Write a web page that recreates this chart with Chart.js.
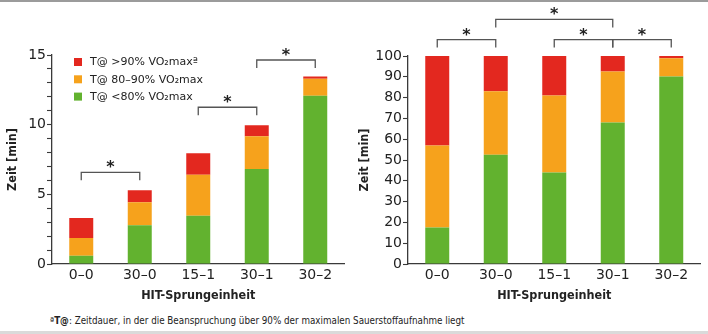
<!DOCTYPE html>
<html>
<head>
<meta charset="utf-8">
<script src="https://cdn.jsdelivr.net/npm/chart.js@4.4.1/dist/chart.umd.min.js"></script>
<style>
  html, body { margin: 0; padding: 0; background: #fff; }
  #page { position: relative; width: 708px; height: 334px; overflow: hidden; }
  #topRule { position: absolute; left: 0; top: 0; width: 708px; height: 2px; background: #9b9b9b; }
  #bottomRule { position: absolute; left: 0; top: 331px; width: 708px; height: 3px; background: #dadada; }
  .panel { position: absolute; top: 0; width: 354px; height: 310px; }
  #note { position: absolute; left: 50px; top: 315px; font: 9.75px "DejaVu Sans Condensed", "DejaVu Sans", sans-serif; color: #222; white-space: nowrap; }
  #note b { font-weight: bold; }
</style>
</head>
<body>
<div id="page">
  <div id="topRule"></div>
  <div class="panel" style="left:0"><canvas id="abs"></canvas></div>
  <div class="panel" style="left:354px"><canvas id="rel"></canvas></div>
  <div id="note">ª<b>T@</b>: Zeitdauer, in der die Beanspruchung über 90% der maximalen Sauerstoffaufnahme liegt</div>
  <div id="bottomRule"></div>
</div>
<script>
// Sprungeinheiten (HIT) auf der x-Achse
const categories = ["0–0", "30–0", "15–1", "30–1", "30–2"];

// Serienbeschriftungen
const labelLow  = "T@ <80% VO₂max";
const labelMid  = "T@ 80–90% VO₂max";
const labelHigh = "T@ >90% VO₂maxª";

// absolute Zeit [min], je Intensitätsbereich
const absLow  = [0.6, 2.78, 3.47, 6.82, 12.08];
const absMid  = [1.27, 1.65, 2.94, 2.35, 1.22];
const absHigh = [1.43, 0.86, 1.53, 0.79, 0.15];

// relativer Anteil [%], je Intensitätsbereich
const relLow  = [17.6, 52.5, 44.0, 68.0, 90.2];
const relMid  = [39.4, 30.5, 37.0, 24.5, 8.7];
const relHigh = [43.0, 17.0, 19.0, 7.5, 1.1];

// Signifikanzklammern: [von Index, bis Index, Höhe in y-Einheiten]
const absBrackets = [[0, 1, 6.58], [2, 3, 11.25], [3, 4, 14.64]];
const relBrackets = [[0, 1, 107.9], [1, 3, 117.6], [2, 3, 107.9], [3, 4, 107.9]];

const COLORS = { low: "#62b22f", mid: "#f6a21c", high: "#e3281f", ink: "#222", axis: "#3a3a3a", bracket: "#555" };
const TICK_FONT = { family: "'DejaVu Sans', sans-serif", size: 14 };
const TITLE_FONT = { family: "'DejaVu Sans Condensed', 'DejaVu Sans', sans-serif", size: 12.5, weight: "bold" };

// Klammern mit Sternchen über den Balken
const bracketPlugin = {
  id: "brackets",
  afterDraw(chart, args, opts) {
    const { ctx, scales: { x, y } } = chart;
    ctx.save();
    ctx.strokeStyle = COLORS.bracket;
    ctx.lineWidth = 1.3;
    ctx.fillStyle = COLORS.ink;
    ctx.font = "bold 16px 'DejaVu Sans', sans-serif";
    ctx.textAlign = "center";
    ctx.textBaseline = "alphabetic";
    (opts.items || []).forEach(([a, b, v]) => {
      const x1 = x.getPixelForValue(a), x2 = x.getPixelForValue(b);
      const yy = y.getPixelForValue(v);
      ctx.beginPath();
      ctx.moveTo(x1, yy + 8);
      ctx.lineTo(x1, yy);
      ctx.lineTo(x2, yy);
      ctx.lineTo(x2, yy + 8);
      ctx.stroke();
      ctx.fillText("*", (x1 + x2) / 2, yy);
    });
    ctx.restore();
  }
};

// Legende oben links im Diagrammbereich (oberste Serie zuerst)
const boxLegendPlugin = {
  id: "boxLegend",
  afterDraw(chart, args, opts) {
    if (!opts.show) return;
    const { ctx, chartArea } = chart;
    const sets = chart.data.datasets.slice().reverse();
    ctx.save();
    ctx.font = "11px 'DejaVu Sans', sans-serif";
    ctx.textBaseline = "middle";
    ctx.textAlign = "left";
    sets.forEach((ds, i) => {
      const cy = chartArea.top + 7 + i * 17.3;
      ctx.fillStyle = ds.backgroundColor;
      ctx.fillRect(chartArea.left + 22, cy - 4, 8, 8);
      ctx.fillStyle = COLORS.ink;
      ctx.fillText(ds.label, chartArea.left + 38, cy + 0.5);
    });
    ctx.restore();
  }
};

function stackedChart(canvasId, low, mid, high, cfg) {
  return new Chart(document.getElementById(canvasId), {
    type: "bar",
    data: {
      labels: categories,
      datasets: [
        { label: labelLow, data: low, backgroundColor: COLORS.low },
        { label: labelMid, data: mid, backgroundColor: COLORS.mid },
        { label: labelHigh, data: high, backgroundColor: COLORS.high }
      ]
    },
    options: {
      responsive: false,
      animation: false,
      layout: { padding: { top: cfg.top, right: cfg.right, left: 0, bottom: 0 } },
      datasets: { bar: { barPercentage: 0.41, categoryPercentage: 1, borderWidth: 0 } },
      plugins: {
        legend: { display: false },
        tooltip: { enabled: false },
        brackets: { items: cfg.brackets },
        boxLegend: { show: cfg.legend }
      },
      scales: {
        x: {
          stacked: true,
          afterFit: (s) => { s.height = 46; },
          grid: { display: false, drawTicks: false },
          border: { display: true, color: COLORS.axis, width: 1.3 },
          ticks: { color: COLORS.ink, font: TICK_FONT, padding: 3 },
          title: { display: true, text: "HIT-Sprungeinheit", color: COLORS.ink, font: TITLE_FONT, padding: { top: 0, bottom: 7 } }
        },
        y: {
          stacked: true,
          min: 0,
          max: cfg.max,
          afterFit: (s) => { s.width = cfg.axisWidth; },
          grid: { drawOnChartArea: false, drawTicks: true, tickLength: 5, color: COLORS.axis, tickWidth: 1.1 },
          border: { display: true, color: COLORS.axis, width: 1.3 },
          ticks: {
            stepSize: cfg.step,
            autoSkip: false,
            color: COLORS.ink,
            font: TICK_FONT,
            padding: 1,
            callback: (v) => (v % cfg.labelEvery === 0 ? v : "")
          },
          title: { display: true, text: "Zeit [min]", color: COLORS.ink, font: TITLE_FONT, padding: { top: cfg.titlePad, bottom: 0 } }
        }
      }
    },
    plugins: [bracketPlugin, boxLegendPlugin]
  });
}

function sizeCanvas(id) {
  const c = document.getElementById(id);
  c.width = 354; c.height = 310;
  c.style.width = "354px"; c.style.height = "310px";
}
sizeCanvas("abs");
sizeCanvas("rel");

stackedChart("abs", absLow, absMid, absHigh, {
  top: 55, right: 9.5, max: 15, step: 1, labelEvery: 5, axisWidth: 52, titlePad: 5.5,
  brackets: absBrackets, legend: true
});
stackedChart("rel", relLow, relMid, relHigh, {
  top: 56, right: 7.5, max: 100, step: 10, labelEvery: 10, axisWidth: 54, titlePad: 3.5,
  brackets: relBrackets, legend: false
});
</script>
</body>
</html>
